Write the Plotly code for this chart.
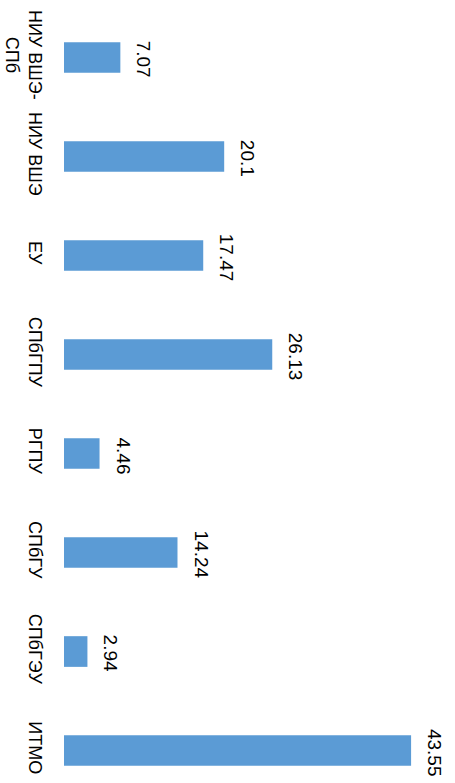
import plotly.graph_objects as go

categories = ["НИУ ВШЭ-<br>СПб", "НИУ ВШЭ", "ЕУ", "СПбГПУ", "РГПУ", "СПбГУ", "СПбГЭУ", "ИТМО"]
values = [7.07, 20.1, 17.47, 26.13, 4.46, 14.24, 2.94, 43.55]
value_labels = ["7.07", "20.1", "17.47", "26.13", "4.46", "14.24", "2.94", "43.55"]

FONT = "Liberation Sans"

fig = go.Figure(go.Bar(
    y=categories,
    x=values,
    orientation="h",
    marker=dict(color="#5B9BD5", line=dict(width=0)),
    width=0.31,
    hoverinfo="skip",
))

for c, v, t in zip(categories, values, value_labels):
    fig.add_annotation(
        x=v, y=c, xref="x", yref="y", text=t, showarrow=False,
        textangle=90, xanchor="left", yanchor="middle", xshift=11, yshift=-2,
        font=dict(family=FONT, size=19, color="#000000"),
    )

fig.update_layout(
    width=455, height=783,
    margin=dict(l=64, r=0, t=0, b=0, autoexpand=False),
    paper_bgcolor="white",
    plot_bgcolor="white",
    showlegend=False,
    xaxis=dict(range=[0, 49.06], visible=False, showgrid=False, zeroline=False, automargin=False),
    yaxis=dict(
        type="category",
        range=[7.328, -0.581],
        tickangle=90,
        tickfont=dict(family=FONT, size=18, color="#000000"),
        showgrid=False, zeroline=False, showline=False,
        ticks="", ticklabelstandoff=16, automargin=False,
    ),
)

fig.write_html(
    "out.html",
    config={"displayModeBar": False, "staticPlot": True},
    post_script="document.body.style.margin='0';document.body.style.overflow='hidden';",
)
